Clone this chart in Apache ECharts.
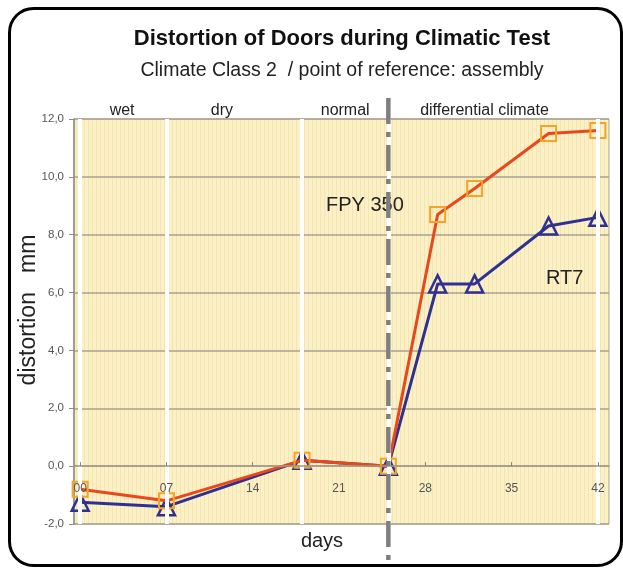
<!DOCTYPE html>
<html>
<head>
<meta charset="utf-8">
<script src="https://cdn.jsdelivr.net/npm/echarts@6/dist/echarts.min.js"></script>
<style>
html,body{margin:0;padding:0;background:#fff;}
#chart{width:623px;height:568px;}
</style>
</head>
<body>
<div id="chart"></div>
<script>
// ---- data ----
var days = [0, 7, 18, 25, 29, 32, 38, 42];
var fpy350 = [-0.8, -1.2, 0.2, 0.0, 8.7, 9.6, 11.5, 11.6];
var rt7 = [-1.25, -1.4, 0.2, 0.0, 6.3, 6.3, 8.3, 8.6];
var dayTicks = [0, 7, 14, 21, 28, 35, 42];
var phaseBounds = [0, 7, 18, 25, 42];
var phaseNames = ['wet', 'dry', 'normal', 'differential climate'];
var phaseLabelDays = [3.4, 11.5, 21.5, 32.8];
var changeDay = 25;

(function () {
var FONT = '"Liberation Sans", Arial, sans-serif';

// striped background pattern
var pc = document.createElement('canvas');
pc.width = 4; pc.height = 4;
var pctx = pc.getContext('2d');
pctx.fillStyle = '#fcf0c6';
pctx.fillRect(0, 0, 4, 4);
pctx.fillStyle = '#f4e4b2';
pctx.fillRect(0, 0, 1, 4);

function pairs(xs, ys) { return xs.map(function (x, i) { return [x, ys[i]]; }); }

var gridTop = 119, gridBottom = 44, H = 568;
var yMin = -2, yMax = 12;
var zeroOffset = (H - gridTop - gridBottom) * (0 - yMin) / (yMax - yMin);

var chart = echarts.init(document.getElementById('chart'), null, {renderer: 'canvas'});
var option = {
  animation: false,
  backgroundColor: '#fff',
  title: [
    {text: 'Distortion of Doors during Climatic Test', left: 337, top: 23, textAlign: 'center',
     textStyle: {fontFamily: FONT, fontSize: 22, fontWeight: 'bold', color: '#111'}},
    {text: 'Climate Class 2  / point of reference: assembly', left: 337, top: 56, textAlign: 'center',
     textStyle: {fontFamily: FONT, fontSize: 19.5, fontWeight: 'normal', color: '#222'}}
  ],
  grid: {left: 74, right: 14, top: gridTop, bottom: gridBottom, show: true,
    backgroundColor: {image: pc, repeat: 'repeat'}, borderColor: '#b0aa98', borderWidth: 1},
  xAxis: {
    type: 'value', min: -0.5, max: 42.9, offset: -zeroOffset, z: 10,
    axisLine: {onZero: false, lineStyle: {color: '#a09a88', width: 1.5}},
    axisTick: {show: true, customValues: dayTicks, length: 4, inside: true, lineStyle: {color: '#8a8470'}},
    axisLabel: {customValues: dayTicks, margin: 17, showMinLabel: true, showMaxLabel: true, hideOverlap: false,
      fontFamily: FONT, fontSize: 12, color: '#555',
      formatter: function (v) { return (v < 10 ? '0' : '') + v; }},
    splitLine: {show: false}
  },
  yAxis: {
    type: 'value', min: yMin, max: yMax, interval: 2,
    axisLine: {show: true, onZero: false, lineStyle: {color: '#8a8a8a', width: 1.5}},
    axisTick: {show: true, length: 5, lineStyle: {color: '#8a8a8a'}},
    axisLabel: {margin: 10, fontFamily: FONT, fontSize: 11.5, color: '#555',
      formatter: function (v) { return v.toFixed(1).replace('.', ','); }},
    splitLine: {show: true, lineStyle: {color: '#a8a290', width: 1.5}}
  },
  series: [
    {
      type: 'line', name: 'sep', data: [], silent: true, z: 1,
      markLine: {silent: true, symbol: ['none', 'none'], label: {show: false},
        lineStyle: {color: '#ffffff', width: 4, type: 'solid'},
        data: phaseBounds.map(function (d) { return {xAxis: d}; })}
    },
    {
      type: 'line', name: 'RT7', data: pairs(days, rt7), z: 3,
      symbol: 'triangle', symbolSize: 17,
      lineStyle: {color: '#2e3192', width: 3},
      itemStyle: {color: 'rgba(0,0,0,0)', borderColor: '#2e3192', borderWidth: 2.5}
    },
    {
      type: 'line', name: 'FPY 350', data: pairs(days, fpy350), z: 4,
      symbol: 'rect', symbolSize: 15,
      lineStyle: {color: '#e8481c', width: 3},
      itemStyle: {color: 'rgba(0,0,0,0)', borderColor: '#f4a428', borderWidth: 2}
    }
  ]
};
chart.setOption(option);

// overlay graphics computed from the axes
var yTop = chart.convertToPixel({yAxisIndex: 0}, yMax);
var yBot = chart.convertToPixel({yAxisIndex: 0}, yMin);
var g = [];
for (var i = 0; i < phaseNames.length; i++) {
  g.push({type: 'text', x: chart.convertToPixel({xAxisIndex: 0}, phaseLabelDays[i]), y: yTop - 8, z: 50,
    style: {text: phaseNames[i], font: '16px ' + FONT, fill: '#222', align: 'center', verticalAlign: 'middle'}});
}
var xc = chart.convertToPixel({xAxisIndex: 0}, changeDay);
g.push({type: 'line', z: 100, shape: {x1: xc, y1: yTop - 21, x2: xc, y2: H},
  style: {stroke: '#7f7f7f', lineWidth: 4.5, lineDash: [26, 8, 5, 8]}});
g.push({type: 'text', x: chart.convertToPixel({xAxisIndex: 0}, 23.1), y: chart.convertToPixel({yAxisIndex: 0}, 9.0), z: 50,
  style: {text: 'FPY 350', font: '20px ' + FONT, fill: '#222', align: 'center', verticalAlign: 'middle'}});
g.push({type: 'text', x: chart.convertToPixel({xAxisIndex: 0}, 39.3), y: chart.convertToPixel({yAxisIndex: 0}, 6.5), z: 50,
  style: {text: 'RT7', font: '20px ' + FONT, fill: '#222', align: 'center', verticalAlign: 'middle'}});
g.push({type: 'text', x: 322, y: yBot + 17, z: 50,
  style: {text: 'days', font: '20px ' + FONT, fill: '#222', align: 'center', verticalAlign: 'middle'}});
g.push({type: 'text', x: 29, y: 310, z: 50, rotation: Math.PI / 2,
  style: {text: 'distortion   mm', font: '23px ' + FONT, fill: '#222', align: 'center', verticalAlign: 'middle'}});
g.push({type: 'rect', z: 120, shape: {x: 9.5, y: 8.5, width: 612, height: 557, r: 24},
  style: {fill: 'none', stroke: '#000', lineWidth: 3}});
chart.setOption({graphic: g});
})();
</script>
</body>
</html>
